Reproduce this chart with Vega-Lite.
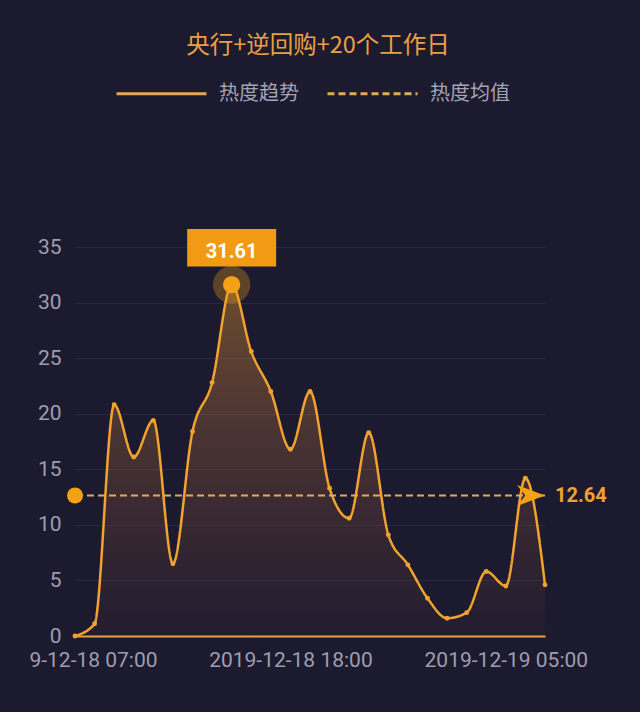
{
  "$schema": "https://vega.github.io/schema/vega-lite/v6.json",
  "width": 470,
  "height": 389,
  "autosize": {"type": "none"},
  "padding": {"left": 75, "top": 247, "right": 95, "bottom": 76},
  "background": "#1c1a2e",
  "config": {"view": {"stroke": null}},
  "title": {
    "text": "央行+逆回购+20个工作日",
    "color": "#e9a042",
    "font": "Noto Sans CJK SC",
    "fontSize": 23.5,
    "fontWeight": "normal",
    "anchor": "middle",
    "frame": "group",
    "dx": 8,
    "dy": 30,
    "offset": 20
  },
  "datasets": {
    "trend": [
      {"t": "2019-12-18T07:00:00", "v": 0},
      {"t": "2019-12-18T08:00:00", "v": 1.1},
      {"t": "2019-12-18T09:00:00", "v": 20.8},
      {"t": "2019-12-18T10:00:00", "v": 16.1},
      {"t": "2019-12-18T11:00:00", "v": 19.4},
      {"t": "2019-12-18T12:00:00", "v": 6.5},
      {"t": "2019-12-18T13:00:00", "v": 18.4},
      {"t": "2019-12-18T14:00:00", "v": 22.8},
      {"t": "2019-12-18T15:00:00", "v": 31.61},
      {"t": "2019-12-18T16:00:00", "v": 25.6},
      {"t": "2019-12-18T17:00:00", "v": 22.0},
      {"t": "2019-12-18T18:00:00", "v": 16.8},
      {"t": "2019-12-18T19:00:00", "v": 22.0},
      {"t": "2019-12-18T20:00:00", "v": 13.3},
      {"t": "2019-12-18T21:00:00", "v": 10.6},
      {"t": "2019-12-18T22:00:00", "v": 18.3},
      {"t": "2019-12-18T23:00:00", "v": 9.1},
      {"t": "2019-12-19T00:00:00", "v": 6.4},
      {"t": "2019-12-19T01:00:00", "v": 3.4},
      {"t": "2019-12-19T02:00:00", "v": 1.6},
      {"t": "2019-12-19T03:00:00", "v": 2.1},
      {"t": "2019-12-19T04:00:00", "v": 5.8},
      {"t": "2019-12-19T05:00:00", "v": 4.5},
      {"t": "2019-12-19T06:00:00", "v": 14.2},
      {"t": "2019-12-19T07:00:00", "v": 4.6}
    ],
    "avg": [
      {"start": "2019-12-18T07:00:00", "end": "2019-12-19T07:00:00", "mean": 12.64}
    ]
  },
  "layer": [
    {
      "data": {"name": "trend"},
      "mark": {
        "type": "area",
        "interpolate": "monotone",
        "color": {
          "gradient": "linear",
          "x1": 0, "y1": 0, "x2": 0, "y2": 1,
          "stops": [
            {"offset": 0, "color": "rgba(240,160,48,0.38)"},
            {"offset": 1, "color": "rgba(200,100,80,0.04)"}
          ]
        }
      },
      "encoding": {
        "x": {
          "field": "t", "type": "temporal",
          "scale": {"nice": false},
          "axis": {
            "title": null,
            "values": [
              {"year": 2019, "month": 12, "date": 18, "hours": 7},
              {"year": 2019, "month": 12, "date": 18, "hours": 18},
              {"year": 2019, "month": 12, "date": 19, "hours": 5}
            ],
            "format": "%Y-%m-%d %H:%M",
            "labelExpr": "datum.index == 0 ? '9-12-18 07:00' : datum.label",
            "labelOffset": {"condition": {"test": "datum.index == 0", "value": 18}, "value": 0},
            "labelFlush": false,
            "labelBound": false,
            "labelOverlap": false,
            "labelFont": "Roboto",
            "labelFontSize": 21,
            "labelColor": "#9e9db0",
            "labelPadding": 13,
            "ticks": false,
            "grid": false,
            "domain": true,
            "domainColor": "#e3a24a",
            "domainWidth": 2
          }
        },
        "y": {
          "field": "v", "type": "quantitative",
          "scale": {"domain": [0, 35], "nice": false},
          "axis": {
            "title": null,
            "values": [0, 5, 10, 15, 20, 25, 30, 35],
            "labelFont": "Roboto",
            "labelFontSize": 21,
            "labelColor": "#9e9db0",
            "labelPadding": 14,
            "ticks": false,
            "domain": false,
            "grid": true,
            "gridColor": "#2a2740",
            "gridWidth": 1
          }
        }
      }
    },
    {
      "data": {"name": "trend"},
      "mark": {"type": "line", "interpolate": "monotone", "color": "#f2a22e", "strokeWidth": 2.5},
      "encoding": {
        "x": {"field": "t", "type": "temporal"},
        "y": {"field": "v", "type": "quantitative"},
        "strokeDash": {
          "datum": "热度趋势",
          "scale": {"domain": ["热度趋势", "热度均值"], "range": [[1, 0], [7, 4]]},
          "legend": {
            "title": null,
            "orient": "none",
            "legendX": 40,
            "legendY": -200,
            "direction": "horizontal",
            "padding": 0,
            "symbolType": "stroke",
            "symbolSize": 8100,
            "symbolStrokeWidth": 3,
            "symbolStrokeColor": "#eea232",
            "labelColor": "#a3a3b5",
            "labelFont": "Noto Sans CJK SC",
            "labelFontSize": 20,
            "labelOffset": 11,
            "columnPadding": 22
          }
        }
      }
    },
    {
      "data": {"name": "trend"},
      "mark": {"type": "point", "filled": true, "size": 24, "color": "#f2a22e", "opacity": 1},
      "encoding": {
        "x": {"field": "t", "type": "temporal"},
        "y": {"field": "v", "type": "quantitative"}
      }
    },
    {
      "data": {"name": "avg"},
      "mark": {"type": "rule", "color": "#e3aa55", "strokeWidth": 2},
      "encoding": {
        "y": {"field": "mean", "type": "quantitative"},
        "strokeDash": {"datum": "热度均值"}
      }
    },
    {
      "data": {"name": "avg"},
      "mark": {"type": "point", "shape": "circle", "filled": true, "size": 256, "color": "#f5a116", "opacity": 1},
      "encoding": {
        "x": {"field": "start", "type": "temporal"},
        "y": {"field": "mean", "type": "quantitative"}
      }
    },
    {
      "data": {"name": "avg"},
      "mark": {"type": "point", "shape": "M0,0L-2,-0.75L-1.4,0L-2,0.75Z", "filled": true, "size": 784, "color": "#f5a116", "opacity": 1},
      "encoding": {
        "x": {"field": "end", "type": "temporal"},
        "y": {"field": "mean", "type": "quantitative"}
      }
    },
    {
      "data": {"name": "avg"},
      "mark": {"type": "text", "align": "left", "baseline": "middle", "dx": 10, "font": "Roboto", "fontSize": 20, "fontWeight": "bold", "color": "#f2a22e"},
      "encoding": {
        "x": {"field": "end", "type": "temporal"},
        "y": {"field": "mean", "type": "quantitative"},
        "text": {"field": "mean", "type": "quantitative", "format": ".2f"}
      }
    },
    {
      "data": {"name": "trend"},
      "transform": [{"filter": "datum.v == 31.61"}],
      "layer": [
        {
          "mark": {"type": "point", "shape": "circle", "filled": true, "size": 1400, "color": "#f5a116", "opacity": 0.3}
        },
        {
          "mark": {"type": "point", "shape": "circle", "filled": true, "size": 300, "color": "#f5a116", "opacity": 1}
        },
        {
          "mark": {"type": "point", "shape": "M-1,-1.25L1,-1.25L1,-0.41L-1,-0.41Z", "filled": true, "size": 7921, "color": "#f39a14", "opacity": 1}
        },
        {
          "mark": {"type": "text", "align": "center", "baseline": "middle", "dy": -33, "font": "Roboto", "fontSize": 20, "fontWeight": "bold", "color": "#ffffff"},
          "encoding": {"text": {"field": "v", "type": "quantitative", "format": ".2f"}}
        }
      ],
      "encoding": {
        "x": {"field": "t", "type": "temporal"},
        "y": {"field": "v", "type": "quantitative"}
      }
    }
  ]
}
